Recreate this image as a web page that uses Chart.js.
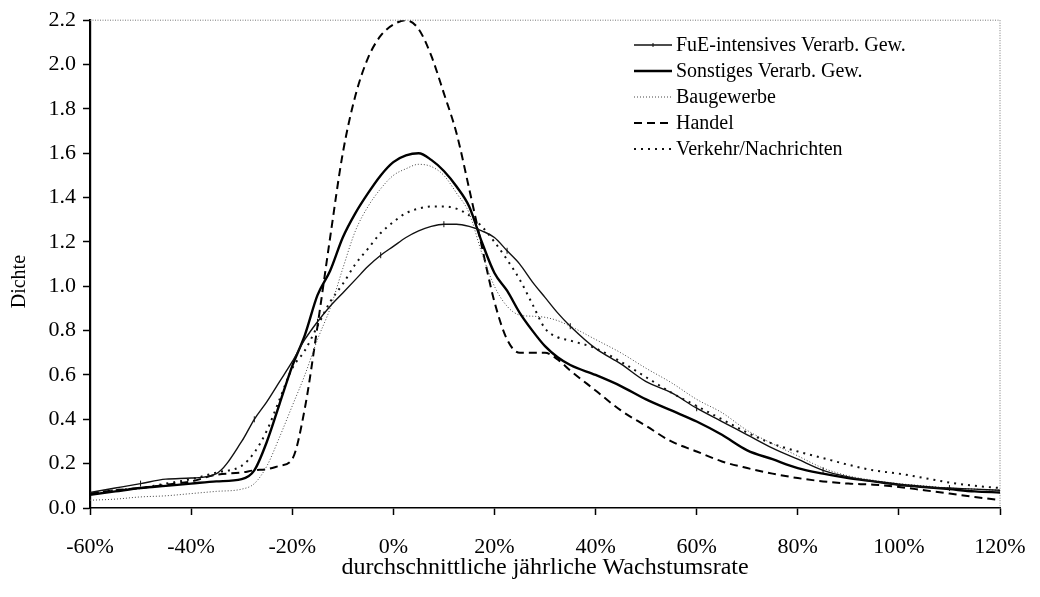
<!DOCTYPE html>
<html lang="de">
<head>
<meta charset="utf-8">
<script src="https://cdn.jsdelivr.net/npm/chart.js@4.4.1/dist/chart.umd.min.js"></script>
<style>
  html, body { margin: 0; padding: 0; background: #fff; }
  #wrap { width: 1040px; height: 597px; }
</style>
</head>
<body>
<div id="wrap"><canvas id="chart" width="1040" height="597"></canvas></div>
<script>
// Wachstumsrate in % (x-Werte)
const rates = [-60, -55, -50, -45, -40, -35, -30, -27.5, -25, -22.5, -20, -17.5, -15, -12.5, -10, -7.5, -5, -2.5,
  0, 2.5, 5, 7.5, 10, 12.5, 15, 17.5, 20, 22.5, 25, 27.5, 30, 32.5, 35, 40, 45, 50, 55, 60, 65, 70, 75, 80,
  85, 90, 95, 100, 105, 110, 115, 120];

// Dichte je Branche
const fueIntensiv = [0.07, 0.09, 0.11, 0.13, 0.135, 0.155, 0.30, 0.40, 0.48, 0.57, 0.66, 0.76, 0.84, 0.91, 0.97, 1.03, 1.09, 1.14,
  1.18, 1.22, 1.25, 1.27, 1.28, 1.28, 1.27, 1.25, 1.22, 1.16, 1.10, 1.02, 0.95, 0.88, 0.82, 0.72, 0.65, 0.57, 0.52, 0.45, 0.39, 0.33, 0.27, 0.22,
  0.17, 0.14, 0.12, 0.105, 0.095, 0.09, 0.085, 0.08];
const sonstiges = [0.06, 0.075, 0.09, 0.10, 0.11, 0.12, 0.13, 0.17, 0.30, 0.47, 0.64, 0.78, 0.96, 1.07, 1.22, 1.33, 1.42, 1.50,
  1.56, 1.59, 1.60, 1.57, 1.52, 1.45, 1.36, 1.20, 1.06, 0.98, 0.88, 0.80, 0.73, 0.68, 0.645, 0.60, 0.55, 0.49, 0.44, 0.39, 0.33, 0.26, 0.22, 0.18,
  0.155, 0.135, 0.12, 0.105, 0.095, 0.085, 0.075, 0.07];
const baugewerbe = [0.035, 0.04, 0.05, 0.055, 0.065, 0.075, 0.085, 0.11, 0.19, 0.32, 0.46, 0.60, 0.76, 0.90, 1.08, 1.25, 1.36, 1.44,
  1.50, 1.53, 1.55, 1.54, 1.50, 1.42, 1.33, 1.15, 1.00, 0.91, 0.87, 0.865, 0.86, 0.845, 0.82, 0.76, 0.70, 0.63, 0.565, 0.49, 0.43, 0.35, 0.29, 0.235,
  0.18, 0.145, 0.125, 0.11, 0.10, 0.09, 0.085, 0.08];
const handel = [0.065, 0.08, 0.09, 0.105, 0.12, 0.15, 0.16, 0.17, 0.175, 0.19, 0.22, 0.45, 0.82, 1.22, 1.60, 1.86, 2.03, 2.13,
  2.18, 2.20, 2.16, 2.04, 1.87, 1.69, 1.44, 1.18, 0.93, 0.76, 0.70, 0.70, 0.70, 0.67, 0.62, 0.53, 0.44, 0.37, 0.30, 0.255, 0.21, 0.18, 0.155, 0.135,
  0.12, 0.11, 0.105, 0.095, 0.08, 0.065, 0.05, 0.035];
const verkehr = [0.065, 0.08, 0.09, 0.11, 0.13, 0.16, 0.19, 0.25, 0.35, 0.49, 0.63, 0.71, 0.82, 0.93, 1.01, 1.10, 1.17, 1.24,
  1.29, 1.33, 1.35, 1.36, 1.36, 1.35, 1.32, 1.27, 1.20, 1.12, 1.03, 0.92, 0.81, 0.77, 0.755, 0.72, 0.66, 0.59, 0.52, 0.46, 0.40, 0.34, 0.29, 0.255,
  0.225, 0.195, 0.17, 0.155, 0.135, 0.115, 0.10, 0.09];

const xTicks = [-60, -40, -20, 0, 20, 40, 60, 80, 100, 120];
const yTicks = [0, 0.2, 0.4, 0.6, 0.8, 1.0, 1.2, 1.4, 1.6, 1.8, 2.0, 2.2];

const serif = "'Liberation Serif', 'Times New Roman', serif";

const pts = ys => ys.map((y, i) => ({ x: rates[i], y }));

const datasets = [
  { label: 'FuE-intensives Verarb. Gew.', data: pts(fueIntensiv), borderColor: '#111', borderWidth: 1.4,
    pointStyle: 'line', rotation: 90, pointBorderColor: '#111', pointBorderWidth: 1,
    pointRadius: c => (c.dataIndex % 5 === 2 ? 3 : 0) },
  { label: 'Sonstiges Verarb. Gew.', data: pts(sonstiges), borderColor: '#000', borderWidth: 2.4, pointRadius: 0 },
  { label: 'Baugewerbe', data: pts(baugewerbe), borderColor: '#444', borderWidth: 1, borderDash: [1, 2], pointRadius: 0 },
  { label: 'Handel', data: pts(handel), borderColor: '#000', borderWidth: 2, borderDash: [8, 5], pointRadius: 0 },
  { label: 'Verkehr/Nachrichten', data: pts(verkehr), borderColor: '#111', borderWidth: 2, borderDash: [2, 5], pointRadius: 0 }
];

// Rahmen oben/rechts gepunktet
const frame = {
  id: 'frame',
  beforeDatasetsDraw(chart) {
    const { ctx, chartArea: a } = chart;
    ctx.save();
    ctx.strokeStyle = '#777';
    ctx.lineWidth = 1;
    ctx.setLineDash([1, 1.5]);
    ctx.beginPath();
    ctx.moveTo(a.left, a.top);
    ctx.lineTo(a.right, a.top);
    ctx.lineTo(a.right, a.bottom);
    ctx.stroke();
    ctx.restore();
  }
};

// Legende innerhalb der Grafik, oben rechts
const legendBox = {
  id: 'legendBox',
  afterDatasetsDraw(chart) {
    const { ctx } = chart;
    const x0 = 634, x1 = 672, tx = 676, y0 = 45, dy = 26;
    ctx.save();
    ctx.font = '20px ' + serif;
    ctx.textBaseline = 'middle';
    ctx.fillStyle = '#000';
    chart.data.datasets.forEach((ds, i) => {
      const y = y0 + i * dy;
      ctx.strokeStyle = ds.borderColor;
      ctx.lineWidth = ds.borderWidth;
      ctx.setLineDash(ds.borderDash || []);
      ctx.beginPath();
      ctx.moveTo(x0, y);
      ctx.lineTo(x1, y);
      ctx.stroke();
      if (i === 0) {
        ctx.setLineDash([]);
        ctx.lineWidth = 1;
        ctx.beginPath();
        ctx.moveTo((x0 + x1) / 2, y - 2);
        ctx.lineTo((x0 + x1) / 2, y + 2);
        ctx.stroke();
      }
      ctx.fillText(ds.label, tx, y + 1);
    });
    ctx.restore();
  }
};

new Chart(document.getElementById('chart'), {
  type: 'line',
  data: { datasets },
  options: {
    responsive: false,
    animation: false,
    events: [],
    layout: { padding: { top: 17, right: 40, left: 0, bottom: 0 } },
    elements: { line: { cubicInterpolationMode: 'monotone', fill: false } },
    plugins: { legend: { display: false }, tooltip: { enabled: false } },
    scales: {
      x: {
        type: 'linear', min: -60, max: 120,
        afterBuildTicks: s => { s.ticks = xTicks.map(v => ({ value: v })); },
        afterFit: s => { s.height = 89; s.paddingLeft = 0; s.paddingRight = 0; },
        ticks: { callback: v => v + '%', color: '#000', font: { family: serif, size: 22 }, padding: 19, maxRotation: 0 },
        grid: { drawOnChartArea: false, drawTicks: true, tickLength: 7, tickWidth: 1.5, tickColor: '#000' },
        border: { color: '#000', width: 1.5 },
        title: { display: true, text: 'durchschnittliche jährliche Wachstumsrate', color: '#000',
          font: { family: serif, size: 24 }, padding: { top: 0, bottom: 15 } }
      },
      y: {
        min: 0, max: 2.2,
        afterBuildTicks: s => { s.ticks = yTicks.map(v => ({ value: v })); },
        afterFit: s => { s.width = 90; },
        ticks: { callback: v => v.toFixed(1), color: '#000', font: { family: serif, size: 22 }, padding: 7 },
        grid: { drawOnChartArea: false, drawTicks: true, tickLength: 7, tickWidth: 1.5, tickColor: '#000' },
        border: { color: '#000', width: 2.2 },
        title: { display: true, text: 'Dichte' + '\u00a0'.repeat(7), color: '#000', font: { family: serif, size: 20 }, padding: { top: 8 } }
      }
    }
  },
  plugins: [frame, legendBox]
});
</script>
</body>
</html>
